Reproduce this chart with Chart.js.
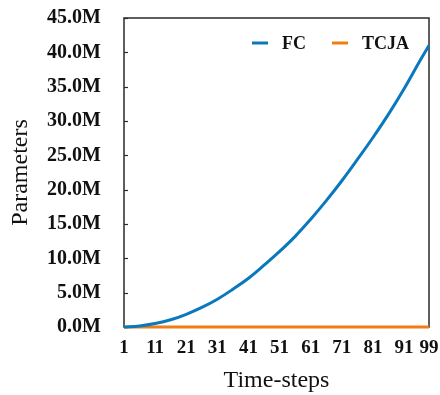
<!DOCTYPE html>
<html>
<head>
<meta charset="utf-8">
<script src="https://cdn.jsdelivr.net/npm/chart.js@4.4.0/dist/chart.umd.min.js"></script>
<style>
    html, body { margin: 0; padding: 0; background: #fff; }
</style>
</head>
<body>
<canvas id="paramChart" width="440" height="395"></canvas>
<script>
"use strict";

// values (millions of parameters)
var timeSteps = [1, 6, 11, 16, 21, 26, 31, 36, 41, 46, 51, 56, 61, 66, 71, 76, 81, 86, 91, 96, 99];
var fcParams = [0.0, 0.15, 0.5, 1.05, 1.85, 2.85, 4.05, 5.5, 7.1, 9.0, 11.0, 13.2, 15.7, 18.4, 21.3, 24.4, 27.6, 31.0, 34.7, 38.7, 41.0];
var tcjaParams = [0.0, 0.0, 0.0, 0.0, 0.0, 0.0, 0.0, 0.0, 0.0, 0.0, 0.0, 0.0, 0.0, 0.0, 0.0, 0.0, 0.0, 0.0, 0.0, 0.0, 0.0];
var xTickLabels = [1, 11, 21, 31, 41, 51, 61, 71, 81, 91, 99];
var yTickLabels = [0, 5, 10, 15, 20, 25, 30, 35, 40, 45];

var serif = "'Liberation Serif', 'Times New Roman', serif";

function toPoints(xs, ys) {
    var pts = [];
    for (var i = 0; i < xs.length; i++) {
        pts.push({ x: xs[i], y: ys[i] });
    }
    return pts;
}

// labels may hang over the plot edges, like in the original
function noLabelPadding(scale) {
    scale.paddingTop = 0;
    scale.paddingBottom = 0;
    scale.paddingLeft = 0;
    scale.paddingRight = 0;
}

/* box round the plot + small inner ticks on the y axis (under the lines) */
var frameBox = {
    id: 'frameBox',
    beforeDatasetsDraw: function (chart) {
        var ctx = chart.ctx;
        var a = chart.chartArea;
        var yScale = chart.scales.y;
        ctx.save();
        ctx.strokeStyle = "#2b2b2b";
        ctx.lineWidth = 1.5;
        ctx.strokeRect(a.left, a.top, a.right - a.left, a.bottom - a.top);
        ctx.lineWidth = 1.2;
        yScale.ticks.forEach(function (t) {
            var py = Math.round(yScale.getPixelForValue(t.value)) + 0.5;
            ctx.beginPath();
            ctx.moveTo(a.left, py);
            ctx.lineTo(a.left + 4, py);
            ctx.stroke();
        });
        ctx.restore();
    }
};

/* legend inside the top right corner */
var innerLegend = {
    id: 'innerLegend',
    afterDraw: function (chart) {
        var ctx = chart.ctx;
        var a = chart.chartArea;
        var spots = [a.left + 128, a.left + 208];
        ctx.save();
        ctx.font = "bold 18px " + serif;
        ctx.textBaseline = "middle";
        ctx.textAlign = "left";
        chart.data.datasets.forEach(function (ds, i) {
            var x = spots[i];
            var y = a.top + 25;
            ctx.strokeStyle = ds.borderColor;
            ctx.lineWidth = 3;
            ctx.beginPath();
            ctx.moveTo(x, y);
            ctx.lineTo(x + 16, y);
            ctx.stroke();
            ctx.fillStyle = "#111";
            ctx.fillText(ds.label, x + 30, y + 1);
        });
        ctx.restore();
    }
};

var ctx1 = document.getElementById("paramChart");
var myLineChart = new Chart(ctx1, {
    type: 'line',
    data: {
        datasets: [{
            label: "FC",
            data: toPoints(timeSteps, fcParams),
            borderColor: "#0a78bd",
            borderWidth: 3,
            pointRadius: 0,
            tension: 0.4,
            clip: 2,
            fill: false
        }, {
            label: "TCJA",
            data: toPoints(timeSteps, tcjaParams),
            borderColor: "#f07c12",
            borderWidth: 3.2,
            pointRadius: 0,
            tension: 0,
            clip: 3,
            fill: false
        }]
    },
    options: {
        responsive: false,
        animation: false,
        layout: { padding: { top: 18, right: 11, left: 0, bottom: 0 } },
        plugins: {
            legend: { display: false },
            tooltip: { enabled: false }
        },
        scales: {
            x: {
                type: 'linear',
                min: 1,
                max: 99,
                afterBuildTicks: function (scale) {
                    scale.ticks = xTickLabels.map(function (v) { return { value: v }; });
                },
                afterFit: function (scale) {
                    scale.height = 68;
                    noLabelPadding(scale);
                },
                grid: { display: false, drawTicks: false },
                border: { display: false },
                ticks: {
                    autoSkip: false,
                    maxRotation: 0,
                    padding: 10,
                    color: "#111",
                    font: { family: serif, size: 19, weight: 'bold' }
                },
                title: {
                    display: true,
                    text: "Time-steps",
                    color: "#111",
                    padding: { top: 0, bottom: 0 },
                    font: { family: serif, size: 24 }
                }
            },
            y: {
                min: 0,
                max: 45,
                afterBuildTicks: function (scale) {
                    scale.ticks = yTickLabels.map(function (v) { return { value: v }; });
                },
                afterFit: function (scale) {
                    scale.width = 124;
                    noLabelPadding(scale);
                },
                grid: { display: false, drawTicks: false },
                border: { display: false },
                ticks: {
                    padding: 23,
                    color: "#111",
                    font: { family: serif, size: 20, weight: 'bold' },
                    callback: function (v) { return v.toFixed(1) + "M"; }
                },
                title: {
                    display: true,
                    text: "Parameters",
                    color: "#111",
                    padding: { top: 6, bottom: 0 },
                    font: { family: serif, size: 24 }
                }
            }
        }
    },
    plugins: [frameBox, innerLegend]
});
</script>
</body>
</html>
